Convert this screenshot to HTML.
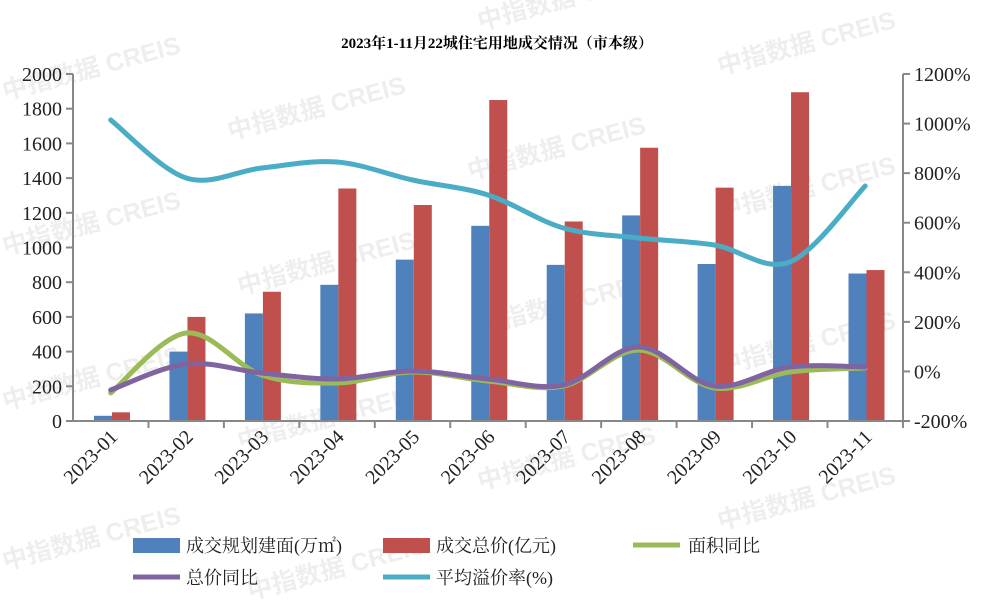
<!DOCTYPE html>
<html><head><meta charset="utf-8"><style>
body{margin:0;background:#fff;}
svg{display:block;}
.wm{font-family:"Liberation Sans","Noto Sans CJK SC",sans-serif;font-size:25px;font-weight:bold;fill:rgba(0,0,0,0.065);}
</style></head><body>
<svg id="s" width="991" height="603" viewBox="0 0 991 603" xmlns="http://www.w3.org/2000/svg">
<text x="497" y="48" text-anchor="middle" style="font-family:'Liberation Serif','Noto Serif CJK SC',serif;font-size:15px;font-weight:bold;fill:#000">2023年1-11月22城住宅用地成交情况（市本级）</text>
<g id="wm"></g>
<g id="bars"></g>
<g stroke="#888" stroke-width="2" fill="none">
<line x1="73" y1="74" x2="73" y2="422"/>
<line x1="903" y1="74" x2="903" y2="422"/>
<line x1="72" y1="421" x2="904" y2="421"/>
</g>
<g id="ax"></g>
<g id="lines" fill="none" stroke-linecap="round" stroke-width="5"></g>
<g style="font-family:'Liberation Serif','Noto Serif CJK SC',serif;font-size:18px;fill:#222">
<rect x="133" y="538" width="47" height="15" fill="#4f81bd"/>
<text x="186" y="552">成交规划建面(万㎡)</text>
<rect x="383" y="538" width="47" height="15" fill="#c0504d"/>
<text x="436" y="552">成交总价(亿元)</text>
<line x1="633" y1="545" x2="680" y2="545" stroke="#9bbb59" stroke-width="5"/>
<text x="688" y="552">面积同比</text>
<line x1="133" y1="577" x2="180" y2="577" stroke="#8064a2" stroke-width="5"/>
<text x="186" y="584">总价同比</text>
<line x1="383" y1="577" x2="430" y2="577" stroke="#4bacc6" stroke-width="5"/>
<text x="436" y="584">平均溢价率(%)</text>
</g>
</svg>
<script>
var NS="http://www.w3.org/2000/svg";
var TF="font-family:'Liberation Serif',serif;font-size:20px;fill:#222";
function el(p,t,a,txt){var e=document.createElementNS(NS,t);for(var k in a)e.setAttribute(k,a[k]);if(txt!=null)e.textContent=txt;document.getElementById(p).appendChild(e);return e;}
var wp=[[5,100],[230,140],[470,180],[5,255],[240,295],[480,335],[720,375],[5,410],[240,450],[480,490],[720,530],[5,570],[250,600],[720,75],[720,220],[480,30],[240,0]];
wp.forEach(function(p){el('wm','text',{class:'wm',x:p[0],y:p[1],transform:'rotate(-15 '+p[0]+' '+p[1]+')'},'中指数据 CREIS');});
var w=75.45,blue=[30,400,620,785,930,1125,900,1185,905,1355,850],red=[50,600,745,1340,1245,1850,1150,1575,1345,1895,870];
for(var i=0;i<11;i++){var st=73+i*w;
el('bars','rect',{x:st+21,y:421-blue[i]*0.1735,width:18,height:blue[i]*0.1735,fill:'#4f81bd'});
el('bars','rect',{x:st+39,y:421-red[i]*0.1735,width:18,height:red[i]*0.1735,fill:'#c0504d'});
el('ax','line',{x1:st+w,y1:421,x2:st+w,y2:428,stroke:'#888','stroke-width':2});
var cx=st+w/2+8;
el('ax','text',{style:TF,x:cx,y:438,'text-anchor':'end',transform:'rotate(-45 '+cx+' 438)'},'2023-'+(i<9?'0':'')+(i+1));}
for(var j=0;j<=10;j++){var y=421-j*34.7;
el('ax','line',{x1:66,y1:y,x2:73,y2:y,stroke:'#888','stroke-width':2});
el('ax','text',{style:TF,x:62,y:y+7,'text-anchor':'end'},String(j*200));}
for(var j=0;j<=7;j++){var y=421-j*49.57;
el('ax','line',{x1:903,y1:y,x2:910,y2:y,stroke:'#888','stroke-width':2});
el('ax','text',{style:TF,x:914,y:y+7},(j*200-200)+'%');}
function path(ys){var p=[];for(var i=0;i<11;i++)p.push([73+i*w+w/2,ys[i]]);
var d='M'+p[0][0]+','+p[0][1];
for(var i=0;i<10;i++){var p0=p[Math.max(i-1,0)],p1=p[i],p2=p[i+1],p3=p[Math.min(i+2,10)],k=6;
d+=' C'+(p1[0]+(p2[0]-p0[0])/k)+','+(p1[1]+(p2[1]-p0[1])/k)+' '+(p2[0]-(p3[0]-p1[0])/k)+','+(p2[1]-(p3[1]-p1[1])/k)+' '+p2[0]+','+p2[1];}
return d;}
el('lines','path',{d:path([393,333,375,383,372,381,386,350,388,372,368]),stroke:'#9bbb59'});
el('lines','path',{d:path([390,364,373,379,371,379,385,347,386,367,367]),stroke:'#8064a2'});
el('lines','path',{d:path([120,178,168,162,180,195,228,238,245,262,186]),stroke:'#4bacc6'});
</script>
</body></html>
